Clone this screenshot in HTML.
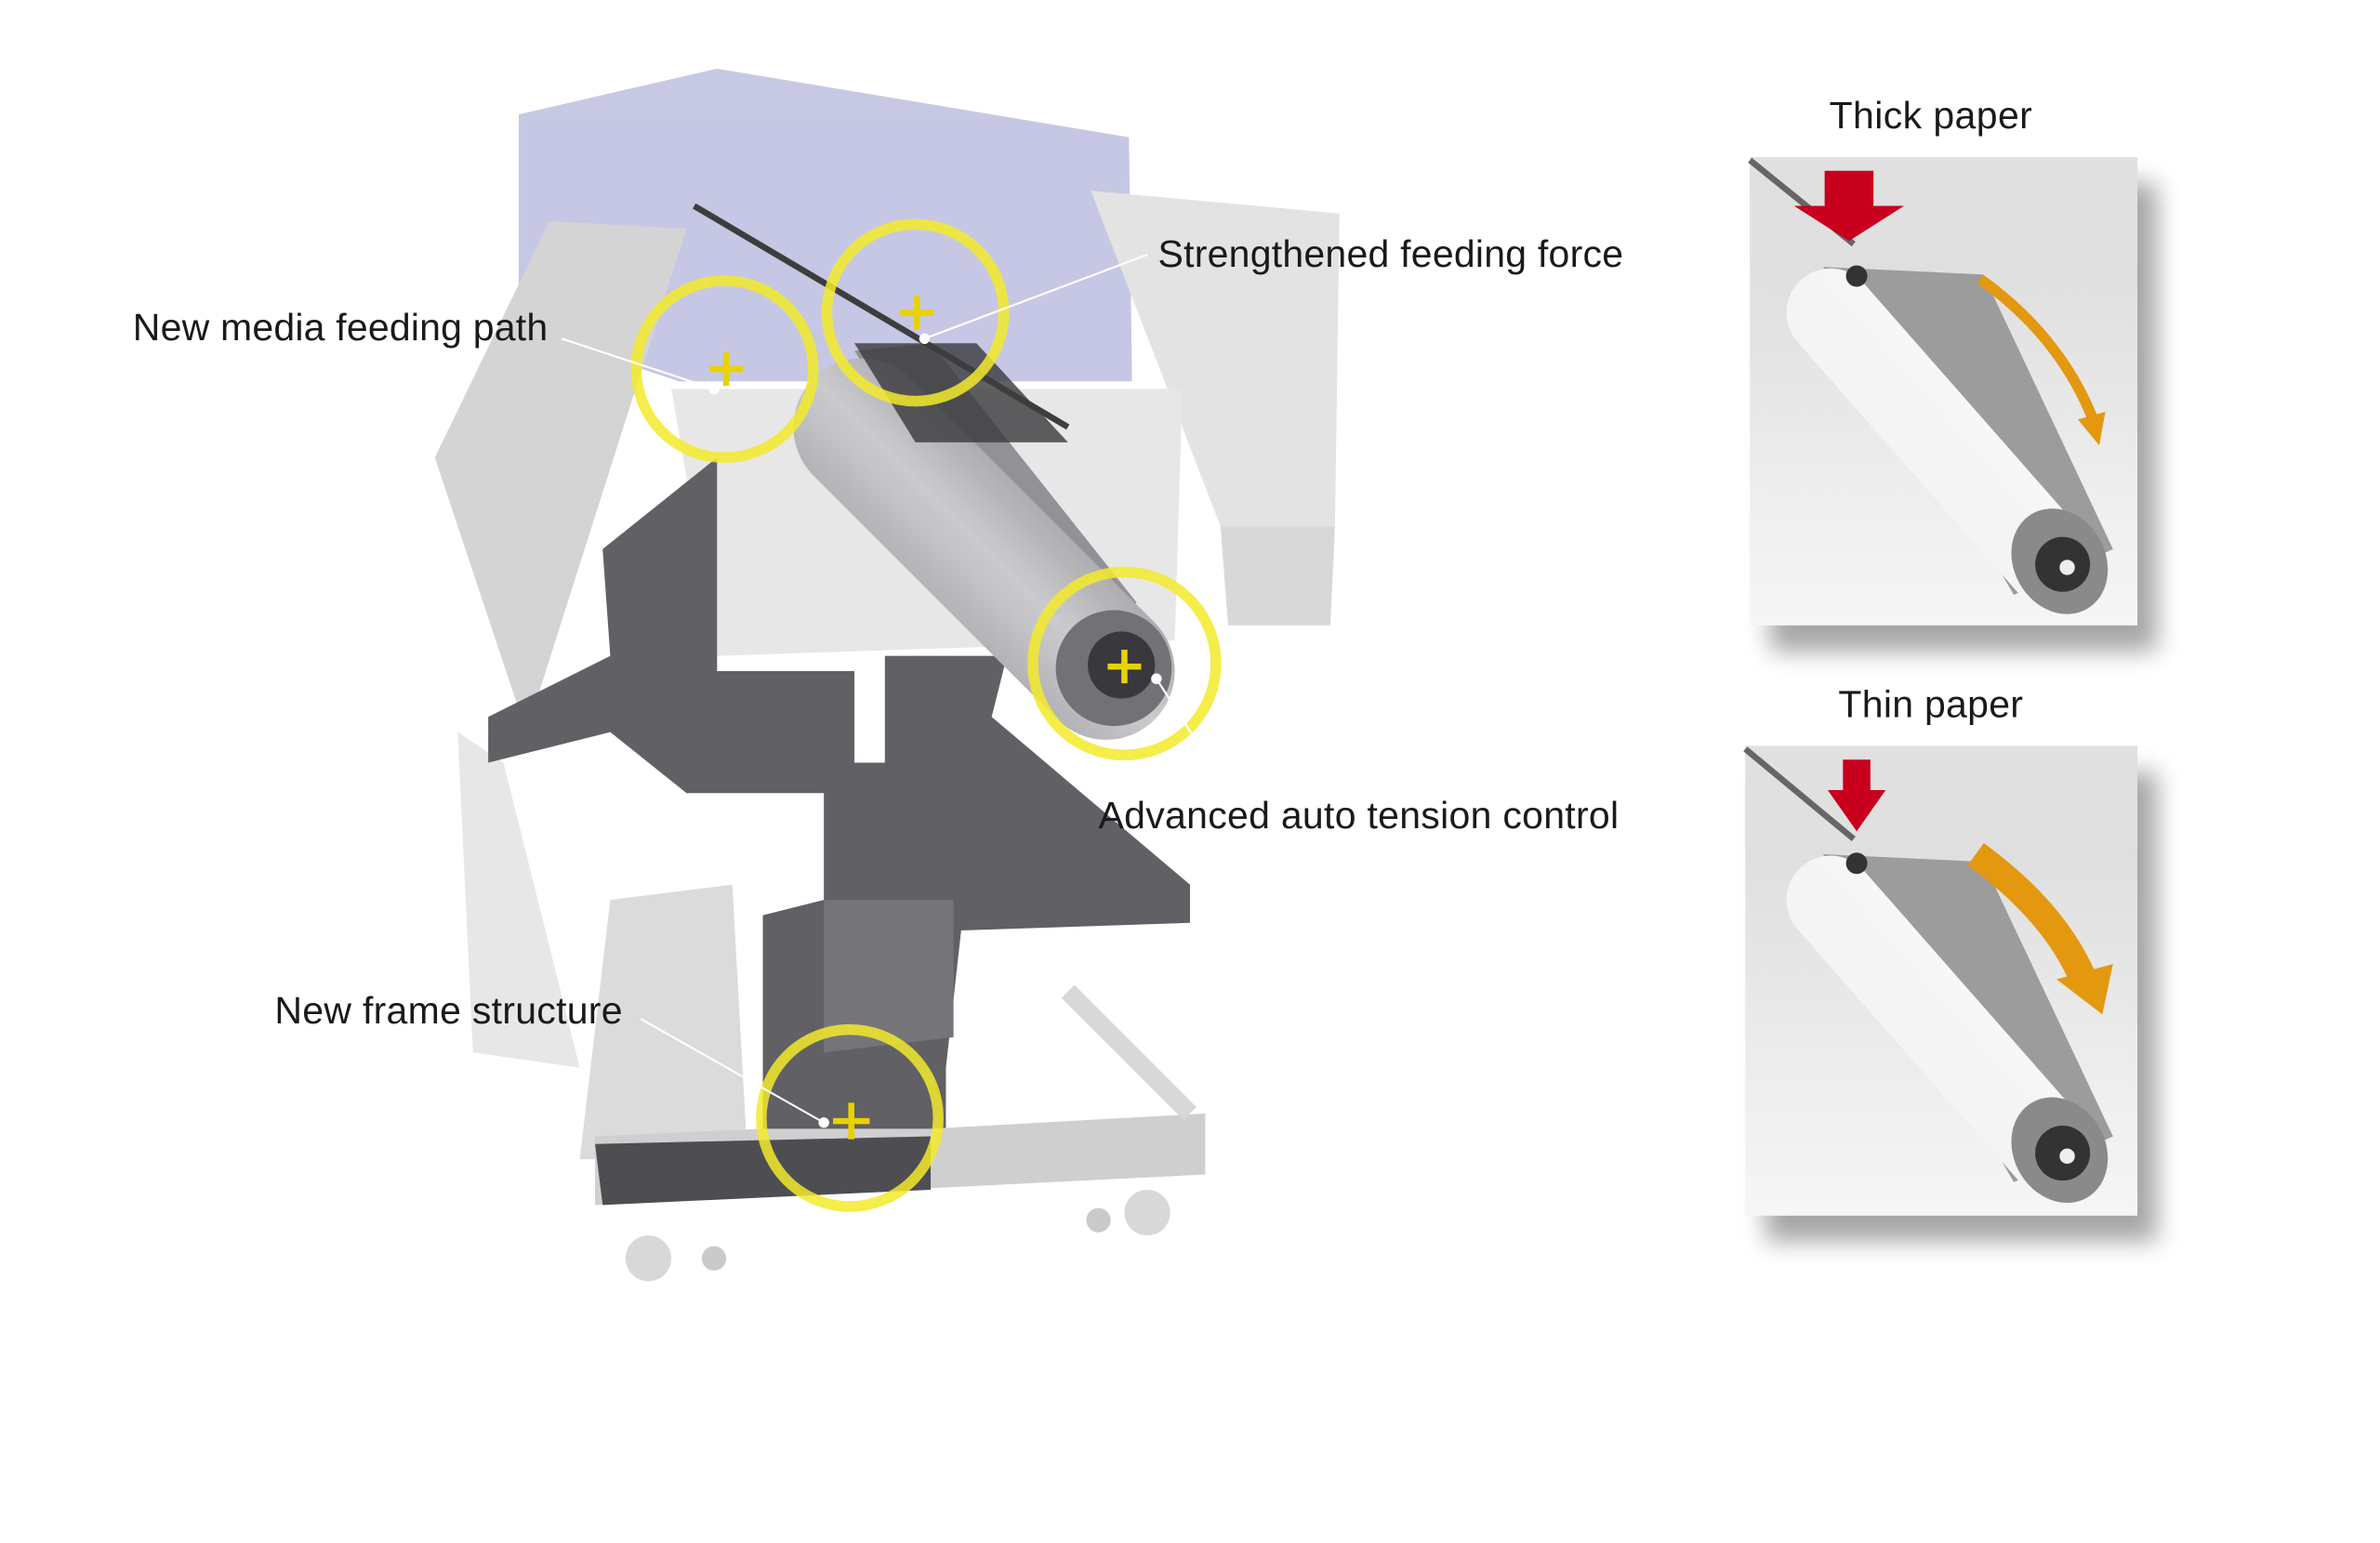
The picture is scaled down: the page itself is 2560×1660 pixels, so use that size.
<!DOCTYPE html>
<html><head><meta charset="utf-8"><style>
html,body{margin:0;padding:0;background:#fff;}
svg{display:block}
text{font-family:"Liberation Sans",Arial,sans-serif;fill:#1a1a1a}
</style></head><body>
<svg width="2560" height="1660" viewBox="0 0 1560 1011.6" xmlns="http://www.w3.org/2000/svg">
<defs>
<linearGradient id="roll" x1="0" y1="0" x2="1" y2="-1"><stop offset="0" stop-color="#f4f4f4"/><stop offset=".45" stop-color="#ffffff"/><stop offset="1" stop-color="#9a9a9a"/></linearGradient>
<linearGradient id="rollb" x1="0" y1="1" x2="1" y2="0"><stop offset="0" stop-color="#8a8a8e"/><stop offset=".5" stop-color="#c9c9cc"/><stop offset="1" stop-color="#77777a"/></linearGradient>
<linearGradient id="panel" x1="0" y1="0" x2="0" y2="1"><stop offset="0" stop-color="#d8d8d8"/><stop offset="1" stop-color="#f6f6f6"/></linearGradient>
<filter id="sh" x="-20%" y="-20%" width="150%" height="150%"><feGaussianBlur stdDeviation="8"/></filter>
</defs>
<!-- printer -->
<g opacity=".95">
<polygon points="340,75 470,45 740,90 742,250 445,250 340,215" fill="#c3c5e3"/>
<polygon points="715,125 878,140 875,345 800,345" fill="#e2e2e2"/>
<polygon points="800,345 875,345 872,410 805,410" fill="#d6d6d6"/>
<polygon points="440,255 775,255 770,420 470,430" fill="#e6e6e6"/>
<polygon points="285,300 360,145 450,150 345,480" fill="#d2d2d2"/>
<polygon points="300,480 330,500 380,700 310,690" fill="#e6e6e6"/>
<polygon points="400,590 480,580 490,760 380,760" fill="#dadada"/>
<polygon points="395,360 470,300 470,440 560,440 560,500 580,500 580,430 660,430 650,470 780,580 780,605 630,610 620,700 620,760 500,770 500,600 540,590 540,520 450,520 400,480 320,500 320,470 400,430" fill="#58585d"/>
<polygon points="390,745 500,740 610,740 790,730 790,770 390,790" fill="#cdcdcd"/>
<polygon points="390,750 610,745 610,780 395,790" fill="#454549"/>
<polygon points="540,590 625,590 625,680 540,690" fill="#6e6e72"/>
<circle cx="425" cy="825" r="15" fill="#d6d6d6"/><circle cx="752" cy="795" r="15" fill="#d6d6d6"/>
<circle cx="720" cy="800" r="8" fill="#c8c8c8"/><circle cx="468" cy="825" r="8" fill="#c8c8c8"/>
<line x1="700" y1="650" x2="780" y2="730" stroke="#d6d6d6" stroke-width="12"/>
<polygon points="560,230 610,225 745,395 700,445" fill="#8c8c92"/>
<line x1="565" y1="280" x2="725" y2="440" stroke="url(#rollb)" stroke-width="90" stroke-linecap="round"/>
<circle cx="730" cy="438" r="38" fill="#6b6b6f"/><circle cx="735" cy="436" r="22" fill="#2e2e33"/>
<polygon points="560,225 640,225 700,290 600,290" fill="#2f2f33" opacity=".8"/>
<line x1="455" y1="135" x2="700" y2="280" stroke="#333" stroke-width="4"/>
</g>
<!-- yellow circles -->
<g fill="none" stroke="#f2ea2a" stroke-width="7" opacity=".85">
<circle cx="475" cy="242" r="58"/><circle cx="600" cy="205" r="58"/><circle cx="737" cy="435" r="60"/><circle cx="557" cy="733" r="58"/>
</g>
<g stroke="#e8d200" stroke-width="4">
<path d="M465 242h22M476 231v22"/><path d="M590 205h22M601 194v22"/><path d="M726 437h22M737 426v22"/><path d="M546 735h24M558 723v24"/>
</g>
<!-- leader lines -->
<g stroke="#fff" stroke-width="1.3">
<line x1="368" y1="222" x2="468" y2="255"/><line x1="752" y1="167" x2="606" y2="222"/><line x1="806" y1="520" x2="758" y2="445"/><line x1="420" y1="668" x2="540" y2="736"/>
</g>
<g fill="#fff"><circle cx="468" cy="255" r="3.5"/><circle cx="606" cy="222" r="3.5"/><circle cx="758" cy="445" r="3.5"/><circle cx="540" cy="736" r="3.5"/></g>
<g font-size="25">
<text x="87" y="223" textLength="272">New media feeding path</text>
<text x="759" y="175" textLength="305">Strengthened feeding force</text>
<text x="720" y="543" textLength="341">Advanced auto tension control</text>
<text x="180" y="671" textLength="228">New frame structure</text>
<text x="1199" y="84" textLength="133">Thick paper</text>
<text x="1205" y="470" textLength="121">Thin paper</text>
</g>
<!-- panels -->
<g>
<rect x="1160" y="120" width="254" height="307" fill="#000" opacity=".35" filter="url(#sh)"/>
<rect x="1147" y="103" width="254" height="307" fill="url(#panel)"/>
<polygon points="1147,172 1401,172 1401,103 1147,103" fill="#e0e0e0"/>
<line x1="1147" y1="105" x2="1215" y2="160" stroke="#666" stroke-width="4"/>
<polygon points="1195,175 1300,180 1385,360 1320,390" fill="#9c9c9c"/>
<line x1="1200" y1="205" x2="1345" y2="370" stroke="url(#roll)" stroke-width="58" stroke-linecap="round"/>
<ellipse cx="1350" cy="368" rx="30" ry="36" transform="rotate(-30 1350 368)" fill="#8a8a8a"/>
<circle cx="1352" cy="370" r="18" fill="#333"/><circle cx="1355" cy="372" r="5" fill="#eee"/>
<circle cx="1217" cy="181" r="7" fill="#333"/>
<polygon points="1196,112 1228,112 1228,135 1248,135 1212,158 1176,135 1196,135" fill="#c8001e"/>
<path d="M1298 183 Q1350 220 1372 275" stroke="#e3980f" stroke-width="7" fill="none"/>
<polygon points="1362,275 1380,270 1376,292" fill="#e3980f"/>
</g>
<g>
<rect x="1157" y="506" width="257" height="308" fill="#000" opacity=".35" filter="url(#sh)"/>
<rect x="1144" y="489" width="257" height="308" fill="url(#panel)"/>
<polygon points="1144,556 1401,556 1401,489 1144,489" fill="#e0e0e0"/>
<line x1="1144" y1="491" x2="1215" y2="550" stroke="#666" stroke-width="4"/>
<polygon points="1195,560 1300,565 1385,745 1320,775" fill="#9c9c9c"/>
<line x1="1200" y1="590" x2="1345" y2="755" stroke="url(#roll)" stroke-width="58" stroke-linecap="round"/>
<ellipse cx="1350" cy="754" rx="30" ry="36" transform="rotate(-30 1350 754)" fill="#8a8a8a"/>
<circle cx="1352" cy="756" r="18" fill="#333"/><circle cx="1355" cy="758" r="5" fill="#eee"/>
<circle cx="1217" cy="566" r="7" fill="#333"/>
<polygon points="1208,498 1226,498 1226,518 1236,518 1217,545 1198,518 1208,518" fill="#c8001e"/>
<path d="M1295 560 Q1350 600 1368 648" stroke="#e3980f" stroke-width="18" fill="none"/>
<polygon points="1348,642 1385,632 1378,665" fill="#e3980f"/>
</g>
</svg>
</body></html>
